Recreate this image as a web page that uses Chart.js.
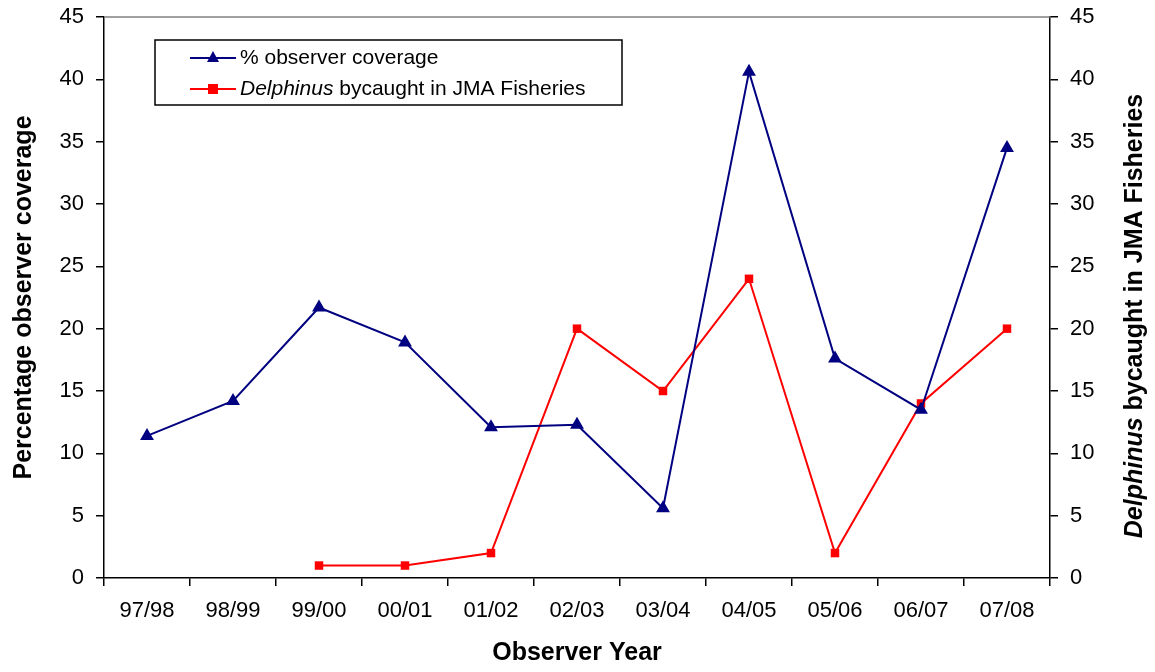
<!DOCTYPE html>
<html>
<head>
<meta charset="utf-8">
<script src="https://cdn.jsdelivr.net/npm/chart.js@4.4.1/dist/chart.umd.min.js"></script>
<style>
  html, body { margin: 0; padding: 0; background: #fff; }
  #wrap { width: 1155px; height: 672px; }
</style>
</head>
<body>
<div id="wrap"><canvas id="myChart"></canvas></div>
<script>
'use strict'

// === DATA ===
const years = ['97/98', '98/99', '99/00', '00/01', '01/02', '02/03', '03/04', '04/05', '05/06', '06/07', '07/08']
const coverage = [11.4, 14.2, 21.7, 18.9, 12.1, 12.3, 5.6, 40.6, 17.6, 13.5, 34.5]
const bycatch = [null, null, 1, 1, 2, 20, 15, 24, 2, 14, 20]
const yTicks = [0, 5, 10, 15, 20, 25, 30, 35, 40, 45]

const FONT = '"Liberation Sans", Arial, sans-serif'
const BLUE = '#000080'
const RED = '#ff0000'

// === LEGEND BOX + RIGHT TITLE + TOP LINE ===
const extras = {
  id: 'extras',
  afterDraw(chart) {
    const c = chart.ctx, a = chart.chartArea
    c.save()
    // top border of plot
    c.strokeStyle = '#808080'
    c.lineWidth = 1.5
    c.beginPath()
    c.moveTo(a.left, a.top)
    c.lineTo(a.right, a.top)
    c.stroke()

    // legend
    const lx = 155, ly = 40, lw = 467, lh = 65
    c.strokeStyle = '#000'
    c.lineWidth = 1.5
    c.strokeRect(lx, ly, lw, lh)
    chart.data.datasets.forEach((ds, i) => {
      const y = ly + 18 + i * 31
      c.strokeStyle = ds.borderColor
      c.lineWidth = 2
      c.beginPath()
      c.moveTo(lx + 35, y)
      c.lineTo(lx + 81, y)
      c.stroke()
      c.fillStyle = ds.backgroundColor
      if (ds.pointStyle === 'triangle') {
        c.beginPath()
        c.moveTo(lx + 58, y - 7)
        c.lineTo(lx + 64, y + 4)
        c.lineTo(lx + 52, y + 4)
        c.closePath()
        c.fill()
      } else {
        c.fillRect(lx + 53, y - 5, 10, 10)
      }
      c.fillStyle = '#000'
      c.textBaseline = 'middle'
      let x = lx + 85
      ds.labelParts.forEach(p => {
        c.font = (p.italic ? 'italic ' : '') + '21px ' + FONT
        c.fillText(p.t, x, y)
        x += c.measureText(p.t).width
      })
    })

    // right axis title
    const parts = [{ t: 'Delphinus', italic: true }, { t: ' bycaught in JMA Fisheries' }]
    c.translate(1135, 316)
    c.rotate(-Math.PI / 2)
    let total = 0
    parts.forEach(p => {
      c.font = (p.italic ? 'italic ' : '') + 'bold 25px ' + FONT
      total += c.measureText(p.t).width
    })
    let x = -total / 2
    c.fillStyle = '#000'
    c.textBaseline = 'middle'
    parts.forEach(p => {
      c.font = (p.italic ? 'italic ' : '') + 'bold 25px ' + FONT
      c.fillText(p.t, x, 0)
      x += c.measureText(p.t).width
    })
    c.restore()
  }
}

const ctx = document.getElementById('myChart')
const myChart = new Chart(ctx, {
  type: 'line',
  data: {
    labels: years,
    datasets: [{
      label: '% observer coverage',
      labelParts: [{ t: '% observer coverage' }],
      data: coverage,
      borderColor: BLUE,
      backgroundColor: BLUE,
      borderWidth: 2,
      pointStyle: 'triangle',
      pointRadius: 8,
      pointBorderWidth: 0,
      yAxisID: 'y'
    }, {
      label: 'Delphinus bycaught in JMA Fisheries',
      labelParts: [{ t: 'Delphinus', italic: true }, { t: ' bycaught in JMA Fisheries' }],
      data: bycatch,
      borderColor: RED,
      backgroundColor: RED,
      borderWidth: 2,
      pointStyle: 'rect',
      pointRadius: 6,
      pointBorderWidth: 0,
      yAxisID: 'y2'
    }]
  },
  options: {
    responsive: true,
    maintainAspectRatio: false,
    animation: false,
    layout: { padding: { top: 17, left: 0, right: 0, bottom: 0 } },
    plugins: { legend: { display: false }, tooltip: { enabled: false } },
    scales: {
      x: {
        offset: true,
        grid: { offset: true, drawOnChartArea: false, tickLength: 8, color: '#000', lineWidth: 1.5 },
        border: { color: '#000', width: 1.5 },
        ticks: { color: '#000', font: { family: FONT, size: 22 }, padding: 12, maxRotation: 0 },
        title: { display: true, text: 'Observer Year', color: '#000', font: { family: FONT, size: 25, weight: 'bold' }, padding: { top: 15 } },
        afterFit(s) { s.height = 94 }
      },
      y: {
        position: 'left',
        min: 0, max: 45,
        afterBuildTicks(s) { s.ticks = yTicks.map(v => ({ value: v })) },
        grid: { drawOnChartArea: false, tickLength: 8, color: '#000', lineWidth: 1.5 },
        border: { color: '#000', width: 1.5 },
        ticks: { color: '#000', font: { family: FONT, size: 22 }, padding: 12 },
        title: { display: true, text: 'Percentage observer coverage', color: '#000', font: { family: FONT, size: 25, weight: 'bold' }, padding: { top: 9 } },
        afterFit(s) { s.width = 104; s.paddingTop = 0; s.paddingBottom = 0 }
      },
      y2: {
        position: 'right',
        min: 0, max: 45,
        afterBuildTicks(s) { s.ticks = yTicks.map(v => ({ value: v })) },
        grid: { drawOnChartArea: false, tickLength: 8, color: '#000', lineWidth: 1.5 },
        border: { color: '#000', width: 1.5 },
        ticks: { color: '#000', font: { family: FONT, size: 22 }, padding: 12 },
        afterFit(s) { s.width = 105; s.paddingTop = 0; s.paddingBottom = 0 }
      }
    }
  },
  plugins: [extras]
})
</script>
</body>
</html>
